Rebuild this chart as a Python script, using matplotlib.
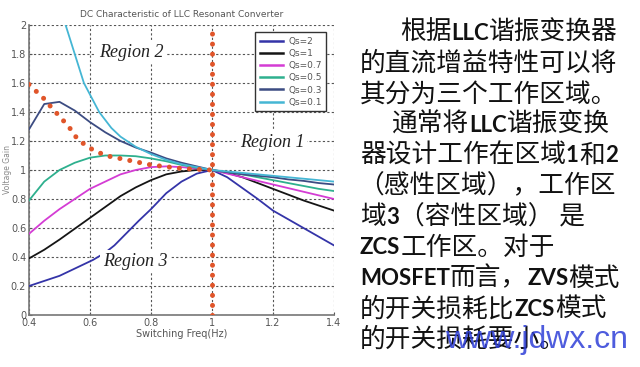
import re
import matplotlib
matplotlib.use("Agg")
import matplotlib.pyplot as plt

# frequency points (normalised switching frequency)
freq_qs2 = [0.40, 0.45, 0.50, 0.55, 0.61, 0.65, 0.68, 0.72, 0.76, 0.80, 0.85, 0.90, 0.95, 1.00, 1.05, 1.10, 1.15, 1.20, 1.25, 1.30, 1.35, 1.40]
gain_qs2 = [0.20, 0.235, 0.27, 0.32, 0.38, 0.43, 0.48, 0.565, 0.65, 0.73, 0.84, 0.92, 0.975, 1.00, 0.95, 0.875, 0.80, 0.72, 0.66, 0.60, 0.54, 0.48]

freq_std = [0.40, 0.45, 0.50, 0.55, 0.60, 0.65, 0.70, 0.75, 0.80, 0.85, 0.90, 0.95, 1.00, 1.05, 1.10, 1.15, 1.20, 1.25, 1.30, 1.35, 1.40]
gain_qs1 = [0.39, 0.45, 0.52, 0.595, 0.67, 0.745, 0.82, 0.88, 0.93, 0.97, 0.99, 1.00, 1.00, 0.98, 0.95, 0.91, 0.87, 0.83, 0.79, 0.755, 0.72]
gain_qs07 = [0.56, 0.65, 0.73, 0.80, 0.87, 0.92, 0.97, 1.00, 1.02, 1.025, 1.02, 1.01, 1.00, 0.975, 0.95, 0.925, 0.90, 0.875, 0.85, 0.825, 0.80]
gain_qs05 = [0.79, 0.92, 1.00, 1.05, 1.085, 1.10, 1.10, 1.095, 1.08, 1.06, 1.035, 1.015, 1.00, 0.985, 0.97, 0.95, 0.93, 0.91, 0.89, 0.87, 0.855]
gain_qs03 = [1.28, 1.455, 1.47, 1.41, 1.33, 1.26, 1.20, 1.155, 1.12, 1.08, 1.05, 1.025, 1.00, 0.985, 0.97, 0.96, 0.95, 0.935, 0.925, 0.91, 0.90]

freq_qs01 = [0.52, 0.535, 0.55, 0.565, 0.58, 0.60, 0.63, 0.67, 0.70, 0.75, 0.80, 0.85, 0.90, 0.95, 1.00, 1.05, 1.10, 1.15, 1.20, 1.25, 1.30, 1.35, 1.40]
gain_qs01 = [2.00, 1.90, 1.80, 1.70, 1.60, 1.52, 1.40, 1.29, 1.23, 1.16, 1.11, 1.07, 1.04, 1.02, 1.00, 0.99, 0.98, 0.97, 0.96, 0.95, 0.94, 0.93, 0.92]

# red dotted boundary between region 2 and region 3
freq_border = [0.40, 0.42, 0.45, 0.47, 0.50, 0.53, 0.56, 0.60, 0.65, 0.72, 0.80, 0.90, 1.00]
gain_border = [1.59, 1.55, 1.49, 1.44, 1.37, 1.30, 1.21, 1.15, 1.10, 1.07, 1.035, 1.01, 1.00]
resonant_freq = 1.0

x_ticks = [0.4, 0.6, 0.8, 1.0, 1.2, 1.4]
x_labels = ["0.4", "0.6", "0.8", "1", "1.2", "1.4"]
y_ticks = [0, 0.2, 0.4, 0.6, 0.8, 1.0, 1.2, 1.4, 1.6, 1.8, 2.0]
y_labels = ["0", "0.2", "0.4", "0.6", "0.8", "1", "1.2", "1.4", "1.6", "1.8", "2"]

text_lines = [
    "根据LLC谐振变换器",
    "的直流增益特性可以将",
    "其分为三个工作区域。",
    "通常将LLC谐振变换",
    "器设计工作在区域1和2",
    "（感性区域），工作区",
    "域3（容性区域） 是",
    "ZCS工作区。对于",
    "MOSFET而言，ZVS模式",
    "的开关损耗比ZCS模式",
    "的开关损耗要小。",
]
line_x_px = [400, 360, 360, 392, 360, 358, 360, 360, 360, 360, 360]

W, H = 640, 367
fig = plt.figure(figsize=(6.4, 3.67), dpi=100)
fig.patch.set_facecolor("white")

ax = fig.add_axes([29 / W, 1 - 315 / H, 305 / W, 290 / H])
ax.set_xlim(0.4, 1.4)
ax.set_ylim(0, 2)

series = [
    (freq_qs2, gain_qs2, "#3434a8", "Qs=2"),
    (freq_std, gain_qs1, "#151515", "Qs=1"),
    (freq_std, gain_qs07, "#d43cd4", "Qs=0.7"),
    (freq_std, gain_qs05, "#2eb08e", "Qs=0.5"),
    (freq_std, gain_qs03, "#3c4c82", "Qs=0.3"),
    (freq_qs01, gain_qs01, "#45b6d4", "Qs=0.1"),
]
for fx, gy, col, lab in series:
    ax.plot(fx, gy, color=col, lw=1.3, label=lab, zorder=3)

dot_style = dict(color="#e0552a", lw=3.6, linestyle=(0, (0.01, 2.0)),
                 dash_capstyle="round", zorder=4)
ax.plot(freq_border, gain_border, **dot_style)
ax.axvline(resonant_freq, **dot_style)

ax.set_xticks(x_ticks)
ax.set_xticklabels(x_labels)
ax.set_yticks(y_ticks)
ax.set_yticklabels(y_labels)
ax.tick_params(labelsize=7, colors="#555555", length=2, direction="in", pad=2)
ax.grid(True, linestyle=(0, (2, 2)), color="#555555", lw=0.8, zorder=0)
ax.set_axisbelow(True)
for side in ["top", "right"]:
    ax.spines[side].set_visible(False)
for side in ["left", "bottom"]:
    ax.spines[side].set_color("#777777")
    ax.spines[side].set_linewidth(1.2)

ax.set_title("DC Characteristic of LLC Resonant Converter", fontsize=6.5,
             color="#555555", pad=6)
ax.set_xlabel("Switching Freq(Hz)", fontsize=7, color="#555555", labelpad=1)
ax.set_ylabel("Voltage Gain", fontsize=5.5, color="#888888", labelpad=-1)

region_style = dict(fontsize=13, family="Liberation Serif", style="italic",
                    color="#222222", ha="center", va="center", zorder=6,
                    bbox=dict(boxstyle="square,pad=0.15", fc="white", ec="none"))
ax.text(0.735, 1.81, "Region 2", **region_style)
ax.text(1.197, 1.19, "Region 1", **region_style)
ax.text(0.748, 0.37, "Region 3", **region_style)

leg = ax.legend(loc="upper right", bbox_to_anchor=(0.99, 0.99), fontsize=6.5,
                handlelength=2.6, handletextpad=0.6, borderpad=0.5,
                labelspacing=0.35, fancybox=False, framealpha=1,
                edgecolor="#333333")
leg.get_frame().set_linewidth(1.0)
for t in leg.get_texts():
    t.set_color("#555555")
for h in leg.get_lines():
    h.set_linewidth(1.8)
leg.set_zorder(7)

# right-hand Chinese text, latin runs in bold
renderer = fig.canvas.get_renderer()
for i, line in enumerate(text_lines):
    y_px = 33 + 30.7 * i
    x_px = line_x_px[i]
    for seg in re.findall(r"[A-Za-z0-9]+|[^A-Za-z0-9]+", line):
        latin = seg[0].isascii() and seg[0].isalnum()
        t = fig.text(x_px / W, 1 - y_px / H, seg,
                     fontsize=16 if latin else 18.5,
                     family=["Lato", "DejaVu Sans"] if latin else ["Noto Sans CJK SC", "DejaVu Sans"],
                     weight="bold" if latin else "normal",
                     color="#111111", ha="left", va="center")
        x_px += t.get_window_extent(renderer).width

fig.text(445 / W, 1 - 340 / H, "www.jdwx.cn", fontsize=23, family="Liberation Sans",
         color="#2f3fd8", alpha=0.85, ha="left", va="center")

fig.savefig("out.png", dpi=100)
